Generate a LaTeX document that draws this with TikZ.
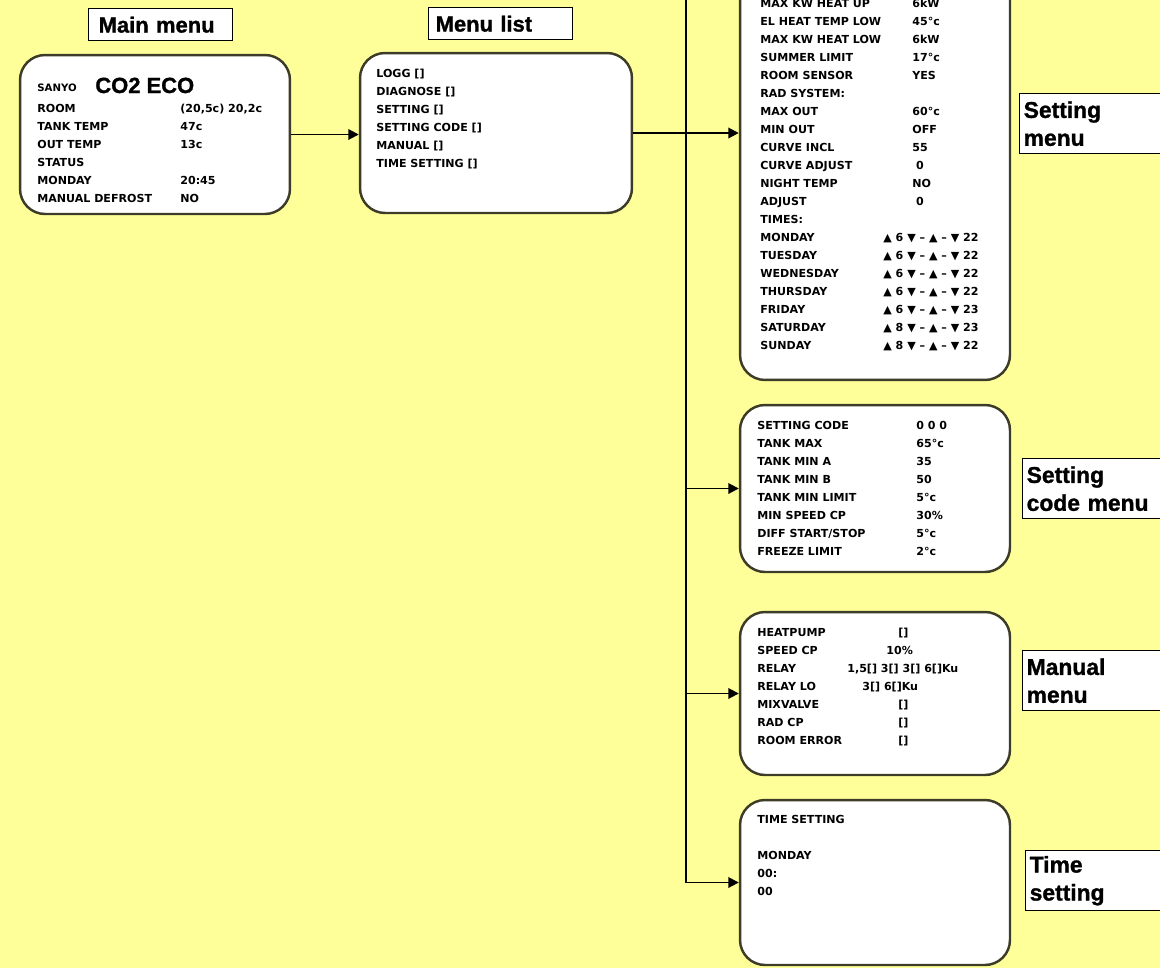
\documentclass[tikz,border=0pt]{standalone}
\usepackage{fontspec}
\usetikzlibrary{arrows.meta, positioning, calc}
\newfontfamily\lcdfont{DejaVu Sans}
\newfontfamily\labelfont[FakeBold=1.2]{Liberation Sans Bold}
\definecolor{lcdyellow}{RGB}{255, 255, 153}
\definecolor{screenedge}{RGB}{60, 60, 40}

\tikzset{
  screen/.style={draw=screenedge, line width=1.4pt, fill=white, rounded corners=0.5cm, inner sep=0pt},
  row/.style={anchor=base west, inner sep=0pt, font=\lcdfont\bfseries\fontsize{6.3}{7}\selectfont},
  caption/.style={draw=black, line width=0.8pt, fill=white, anchor=north west, align=left,
    inner ysep=0pt, font=\labelfont\fontsize{12.5}{14}\selectfont},
  sidecaption/.style={caption, inner xsep=0.08cm, text width=3.5cm, minimum height=1.2cm,
    font=\labelfont\fontsize{13}{15.9}\selectfont},
  wire/.style={line width=1.1pt, black},
  feed/.style={wire, -{Triangle[length=6pt, width=6pt]}}
}

\begin{document}
\begin{tikzpicture}[x=0.02cm, y=-0.02cm]
  \useasboundingbox (0,0) rectangle (1160,968);
  \fill[lcdyellow] (0,0) rectangle (1160,968);
  \begin{scope}
  \clip (0,0) rectangle (1160,968);

  % titles above the screens
  \node[caption, inner xsep=0.2cm, text width=2.48cm, minimum height=0.64cm] (maintitle) at (88,8) {Main menu};
  \node[caption, inner xsep=0.14cm, text width=2.6cm, minimum height=0.64cm] (listtitle) at (428,7) {Menu list};

  % screens
  \node[screen, minimum width=5.4cm, minimum height=3.18cm] (main) at (155,134.5) {};
  \node[screen, minimum width=5.44cm, minimum height=3.2cm] (list) at (496,133) {};
  \node[screen, minimum width=5.4cm, minimum height=8.4cm] (setting) at (875,170) {};
  \node[screen, minimum width=5.4cm, minimum height=3.34cm] (code) at (875,488.5) {};
  \node[screen, minimum width=5.4cm, minimum height=3.26cm] (manual) at (875,693.5) {};
  \node[screen, minimum width=5.4cm, minimum height=3.3cm] (time) at (875,882.5) {};

  % main menu screen
  \node[row, font=\lcdfont\bfseries\fontsize{5.8}{6}\selectfont] (brand) at (37,91) {SANYO};
  \node[row, font=\labelfont\fontsize{12.5}{14}\selectfont] (model) at (95,93) {CO2 ECO};
  \foreach \k/\v [count=\n] in {ROOM/{(20,5c) 20,2c}, TANK TEMP/47c, OUT TEMP/13c, STATUS/,
      MONDAY/20:45, MANUAL DEFROST/NO} {
    \node[row] (main-k\n) at (37,{94+18*\n}) {\k};
    \node[row] (main-v\n) at (180,{94+18*\n}) {\v};
  }

  % menu list screen
  \foreach \k [count=\n] in {LOGG [], DIAGNOSE [], SETTING [], SETTING CODE [], MANUAL [], TIME SETTING []}
    \node[row] (list-k\n) at (376,{59+18*\n}) {\k};

  % setting screen
  \foreach \k/\v [count=\n] in {MAX KW HEAT UP/6kW, EL HEAT TEMP LOW/45°c, MAX KW HEAT LOW/6kW,
      SUMMER LIMIT/17°c, ROOM SENSOR/YES, RAD SYSTEM:/, MAX OUT/60°c, MIN OUT/OFF,
      CURVE INCL/55, CURVE ADJUST/\ 0, NIGHT TEMP/NO, ADJUST/\ 0, TIMES:/} {
    \node[row] (set-k\n) at (760,{18*\n-11}) {\k};
    \node[row] (set-v\n) at (912,{18*\n-11}) {\v};
  }
  \foreach \k/\on/\off [count=\n] in {MONDAY/6/22, TUESDAY/6/22, WEDNESDAY/6/22, THURSDAY/6/22,
      FRIDAY/6/23, SATURDAY/8/23, SUNDAY/8/22} {
    \node[row] (day-k\n) at (760,{223+18*\n}) {\k};
    \node[row] (day-v\n) at (883,{223+18*\n}) {▲ \on\ ▼ – ▲ – ▼ \off};
  }

  % setting code screen
  \foreach \k/\v [count=\n] in {SETTING CODE/0 0 0, TANK MAX/65°c, TANK MIN A/35, TANK MIN B/50,
      TANK MIN LIMIT/5°c, MIN SPEED CP/30\%, {DIFF START/STOP}/5°c, FREEZE LIMIT/2°c} {
    \node[row] (code-k\n) at (757,{411+18*\n}) {\k};
    \node[row] (code-v\n) at (916,{411+18*\n}) {\v};
  }

  % manual screen
  \foreach \k/\v/\vx [count=\n] in {HEATPUMP/[]/898, SPEED CP/10\%/886, RELAY/{1,5[] 3[] 3[] 6[]Ku}/847,
      RELAY LO/{3[] 6[]Ku}/862, MIXVALVE/[]/898, RAD CP/[]/898, ROOM ERROR/[]/898} {
    \node[row] (man-k\n) at (757,{618+18*\n}) {\k};
    \node[row] (man-v\n) at (\vx,{618+18*\n}) {\v};
  }

  % time setting screen
  \node[row] (time-k1) at (757,823) {TIME SETTING};
  \node[row] (time-k2) at (757,859) {MONDAY};
  \node[row] (time-k3) at (757,877) {00:};
  \node[row] (time-k4) at (757,895) {00};

  % side titles
  \node[sidecaption] (settitle) at (1019,93) {Setting\\menu};
  \node[sidecaption] (codetitle) at (1022,458) {Setting\\code menu};
  \node[sidecaption] (mantitle) at (1022,650) {Manual\\menu};
  \node[sidecaption] (timetitle) at (1025,850) {Time\\setting};

  % connectors
  \coordinate (bustop) at (686,-5);
  \coordinate (busend) at (bustop |- time.west);
  \draw[feed] (main.east) -- (main.east -| list.west);
  \draw[feed] (list.east) -- (list.east -| setting.west);
  \draw[wire] (bustop) -- (busend);
  \draw[feed] (bustop |- code.west) -- (code.west);
  \draw[feed] (bustop |- manual.west) -- (manual.west);
  \draw[feed] (busend) -- (time.west);
  \end{scope}
\end{tikzpicture}
\end{document}
